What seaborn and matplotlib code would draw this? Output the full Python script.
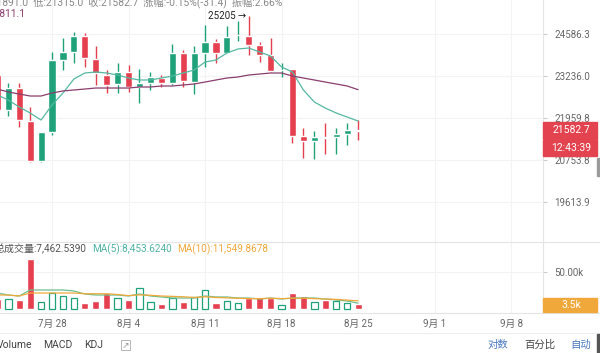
import numpy as np
import pandas as pd
import matplotlib
matplotlib.use('Agg')
import matplotlib.pyplot as plt
import matplotlib.dates as mdates
from matplotlib.lines import Line2D
from matplotlib.patches import Rectangle
from matplotlib.ticker import NullLocator
import seaborn as sns

# daily candles, 7/23 .. 8/25
dates = pd.date_range('2025-07-23', periods=34, freq='D')
opens = [23265, 22193, 22861, 21866, 20723, 21545, 23740, 23997, 24520, 23772, 23265, 22985,
         23359, 22892, 23016, 23171, 23016, 23965, 23046, 23965, 24323, 23965, 24537, 24520,
         24225, 23900, 23407, 23454, 21429, 21289, 21400, 21400, 21487, 21614.1]
closes = [22193, 22861, 21896, 20723, 21545, 23740, 23997, 24520, 23804, 23328, 22954, 23359,
          22892, 23016, 23202, 23016, 23965, 23077, 23965, 24323, 23965, 24487, 24553, 24225,
          23900, 23391, 23422, 21429, 21289, 21400, 21386, 21487, 21614.1, 21582.7]
highs = [23422, 23016, 23016, 22283, 21545, 23997, 24454, 24653, 24619, 24192, 23422, 23644,
         23580, 23454, 23359, 23265, 24257, 24062, 24192, 24886, 24421, 24853, 25021, 25205,
         24323, 24454, 23644, 23454, 21661, 21574, 21808, 21661, 21808, 21891.0]
lows = [22104, 22014, 21690, 20700, 20700, 21458, 23422, 23644, 23517, 22954, 22708, 22708,
        22739, 22404, 22800, 22892, 22954, 22892, 22677, 23517, 23644, 23965, 24356, 23900,
        23676, 23359, 23202, 21232, 20807, 20779, 20920, 20920, 21175, 21315.0]
ma_fast = [22646, 22494, 22283, 22104, 21896, 22344, 22708, 23140, 23328, 23359, 23328, 23265,
           23171, 23109, 23109, 23171, 23233, 23328, 23422, 23676, 23740, 23965, 24095, 24127,
           23997, 23868, 23517, 23359, 22800, 22434, 22253, 22104, 21985, 21866]
ma_slow = [22830, 22739, 22677, 22616, 22616, 22708, 22770, 22800, 22830, 22861, 22861, 22861,
           22861, 22892, 22892, 22923, 22923, 22954, 22985, 23046, 23109, 23171, 23202, 23265,
           23296, 23328, 23328, 23233, 23171, 23109, 23046, 22985, 22923, 22811.1]

# volume (thousands)
volumes = [13.6, 13.6, 12.7, 66.9, 10.4, 22.4, 18.0, 14.9, 8.3, 11.7, 21.6, 14.9, 12.7, 28.3,
           10.4, 6.9, 14.9, 10.4, 17.0, 26.0, 9.1, 11.3, 9.1, 14.9, 17.0, 15.7, 6.0, 22.4,
           18.0, 10.4, 12.7, 11.3, 9.1, 7.4625]
vol_ma5 = [22.0, 19.3, 18.0, 26.0, 26.0, 26.0, 26.0, 24.7, 20.7, 19.3, 19.3, 19.3, 18.0, 20.7,
           18.0, 16.7, 15.3, 15.3, 15.3, 18.0, 16.7, 16.7, 15.3, 15.3, 14.0, 15.3, 14.0, 15.3,
           15.3, 15.3, 14.0, 12.7, 11.3, 8.45]
vol_ma10 = [19.3, 19.3, 18.0, 22.0, 22.0, 22.0, 22.0, 22.0, 21.0, 21.0, 21.0, 20.0, 18.5, 19.5,
            19.0, 18.0, 17.5, 17.0, 16.0, 17.0, 16.0, 15.5, 15.0, 14.5, 14.5, 15.0, 14.5, 15.0,
            15.0, 14.5, 14.0, 13.5, 12.5, 11.55]

price_ticks = [24586.3, 23236.0, 21959.8, 20753.8, 19613.9]
week_dates = pd.to_datetime(['2025-07-28', '2025-08-04', '2025-08-11', '2025-08-18',
                             '2025-08-25', '2025-09-01', '2025-09-08'])
week_labels = ['7月 28', '8月 4', '8月 11', '8月 18', '8月 25', '9月 1', '9月 8']

GREEN = '#1fa27a'
RED = '#e5404f'
TEAL = '#55b8a2'
PURPLE = '#8a3d6e'
ORANGE = '#f0a83a'
GRAY = '#666666'

sns.set_style('white')
plt.rcParams['font.family'] = ['Roboto', 'Noto Sans CJK SC', 'DejaVu Sans']

W, H = 600, 353
def fx(x): return x / W
def fy(y): return 1 - y / H

fig = plt.figure(figsize=(6, 3.53), dpi=100)
ax = fig.add_axes([0, fy(242), fx(543), 242 / H])
axv = fig.add_axes([0, fy(313), fx(543), 71 / H])

x = mdates.date2num(dates)
o, c = np.array(opens), np.array(closes)
up = c >= o
cols = np.where(up, GREEN, RED)

# candles
ax.vlines(x, lows, highs, colors=cols, lw=1, zorder=3)
ax.bar(x, np.maximum(np.abs(c - o), 25), bottom=np.minimum(o, c), width=0.65,
       color=cols, zorder=4)
sns.lineplot(x=dates, y=ma_fast, ax=ax, color=TEAL, lw=0.9, zorder=5)
sns.lineplot(x=dates, y=ma_slow, ax=ax, color=PURPLE, lw=0.9, zorder=5)

ax.set_yscale('log')
ax.set_ylim(18578, 25739)
ax.yaxis.set_minor_locator(NullLocator())
ax.set_yticks(price_ticks)
ax.set_yticklabels([f'{p:.1f}' for p in price_ticks])
ax.yaxis.tick_right()
ax.tick_params(axis='y', length=3, color='#cccccc', labelcolor=GRAY, labelsize=7, pad=5)
ax.set_xticks(mdates.date2num(week_dates))
ax.tick_params(axis='x', length=0, labelbottom=False)
ax.grid(True, color='#f3f3f3', lw=0.8)
ax.set_xlabel('')
ax.set_ylabel('')
for s in ax.spines.values():
    s.set_visible(False)

ax.annotate('25205 →', xy=(x[23], 25205), xytext=(-2, 0), textcoords='offset points',
            ha='right', va='center', fontsize=7, color='#222222',
            family=['Roboto', 'DejaVu Sans'])

# volume pane
axv.bar(x[~up], np.array(volumes)[~up] * 1000, width=0.65, color=RED, zorder=3)
axv.bar(x[up], np.array(volumes)[up] * 1000, width=0.6, facecolor='white',
        edgecolor=GREEN, lw=0.9, zorder=3)
sns.lineplot(x=dates, y=np.array(vol_ma5) * 1000, ax=axv, color='#6cbf8c', lw=0.9, zorder=4)
sns.lineplot(x=dates, y=np.array(vol_ma10) * 1000, ax=axv, color=ORANGE, lw=0.9, zorder=4)
axv.set_ylim(-4667, 90000)
axv.set_yticks([50000])
axv.set_yticklabels(['50.00k'])
axv.yaxis.tick_right()
axv.tick_params(axis='y', length=3, color='#cccccc', labelcolor=GRAY, labelsize=7, pad=5)
axv.set_xticks(mdates.date2num(week_dates))
axv.set_xticklabels(week_labels)
axv.tick_params(axis='x', length=0, labelsize=7, labelcolor=GRAY, pad=4)
axv.grid(True, color='#f3f3f3', lw=0.8)
axv.set_xlabel('')
axv.set_ylabel('')
for s in axv.spines.values():
    s.set_visible(False)

x0 = x[0] + 2.63 / 10.93
x1 = x0 + 543 / 10.93
ax.set_xlim(x0, x1)
axv.set_xlim(x0, x1)

# frame lines
def hline(y, color='#e4e4e4'):
    fig.add_artist(Line2D([0, 1], [fy(y), fy(y)], transform=fig.transFigure, color=color, lw=0.8))
hline(242)
hline(313)
hline(333, '#eeeeee')
fig.add_artist(Line2D([fx(543), fx(543)], [fy(0), fy(313)], transform=fig.transFigure,
                      color='#e4e4e4', lw=0.8))

def badge(x0_, y0_, x1_, y1_, color, label):
    fig.add_artist(Rectangle((fx(x0_), fy(y1_)), fx(x1_ - x0_), (y1_ - y0_) / H,
                             transform=fig.transFigure, color=color, zorder=10))
    fig.text(fx((x0_ + x1_) / 2 + 1), fy((y0_ + y1_) / 2), label, color='white', fontsize=7.5,
             ha='center', va='center', zorder=11)

badge(543, 122, 597, 139, '#e2434f', '21582.7')
badge(543, 140, 597, 156, '#e2434f', '12:43:39')
badge(543, 298, 597, 312, ORANGE, '3.5k')
fig.add_artist(Rectangle((fx(597), fy(176)), fx(3), 18 / H, transform=fig.transFigure,
                         color='#9a9a9a', zorder=10))
fig.add_artist(Rectangle((fx(597), fy(353)), fx(3), 19 / H, transform=fig.transFigure,
                         color='#555555', zorder=10))

# header texts
fig.text(fx(-22), fy(2), '高:21891.0  低:21315.0  收:21582.7  涨幅:-0.15%(-31.4)  振幅:2.66%',
         fontsize=7.4, color='#888888', va='center')
fig.text(fx(25), fy(14), 'MA(30):22811.1', fontsize=7.4, color=PURPLE, va='center', ha='right')
fig.text(fx(-5), fy(249), '总成交量:7,462.5390', fontsize=7.2, color='#555555', va='center')
fig.text(fx(92), fy(249), 'MA(5):8,453.6240', fontsize=7.2, color='#4fb3a4', va='center')
fig.text(fx(177), fy(249), 'MA(10):11,549.8678', fontsize=7.2, color=ORANGE, va='center')

# bottom toolbar
for lbl, px in [('Volume', -3), ('MACD', 43), ('KDJ', 84)]:
    fig.text(fx(px), fy(345), lbl, fontsize=7.5, color='#444444', va='center')
fig.text(fx(122), fy(345), '↗', fontsize=6.5, color='#999999', va='center',
         family=['DejaVu Sans'],
         bbox=dict(boxstyle='square,pad=0.1', fc='white', ec='#aaaaaa', lw=0.6))
fig.text(fx(488), fy(345), '对数', fontsize=7.5, color='#4a78c0', va='center')
fig.text(fx(524), fy(345), '百分比', fontsize=7.5, color='#444444', va='center')
fig.text(fx(570), fy(345), '自动', fontsize=7.5, color='#4a78c0', va='center')

fig.savefig('out.png', dpi=100)
